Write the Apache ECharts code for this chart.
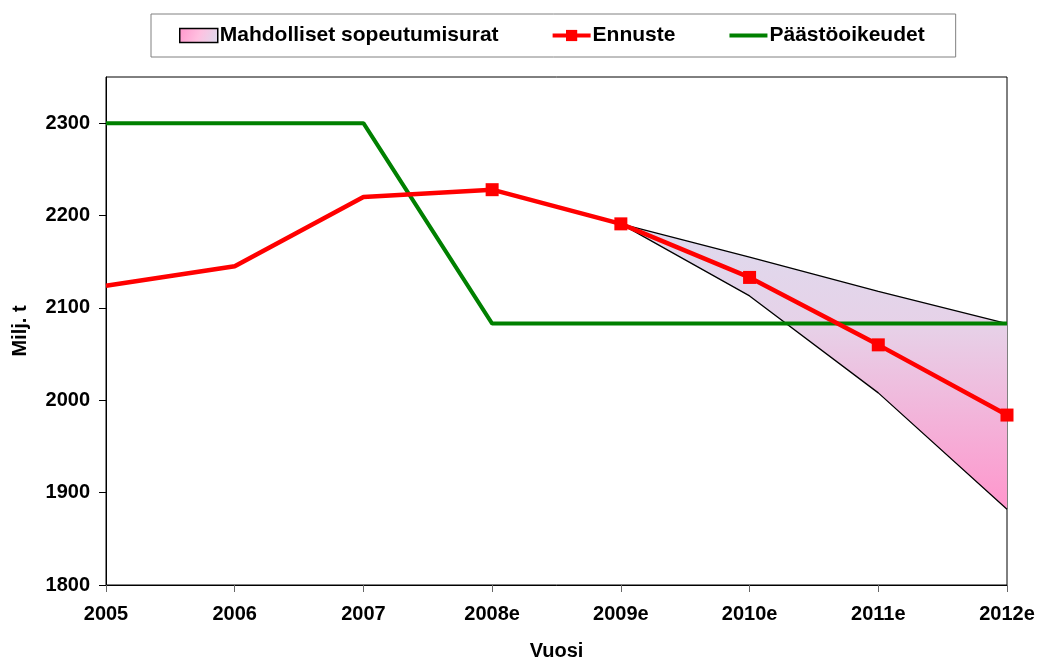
<!DOCTYPE html>
<html>
<head>
<meta charset="utf-8">
<script src="https://cdn.jsdelivr.net/npm/echarts@6/dist/echarts.min.js"></script>
<style>
	html, body { margin: 0; padding: 0; background: #fff; }
	#main { width: 1038px; height: 661px; }
</style>
</head>
<body>
<div id="main"></div>
<script>
const years = ['2005', '2006', '2007', '2008e', '2009e', '2010e', '2011e', '2012e'];
const ennuste = [2124, 2145, 2220, 2228, 2191, 2133, 2060, 1984];
const markerFrom = 3; // markers only from 2008e on
const paastooikeudet = [2300, 2300, 2300, 2083, 2083, 2083, 2083, 2083];
const bandUpper = [null, null, null, null, 2191, 2155, 2118, 2083];
const bandLower = [null, null, null, null, 2191, 2113, 2008, 1882];
const yTicks = [1800, 1900, 2000, 2100, 2200, 2300];

const font = {fontFamily: 'Liberation Sans, Arial, sans-serif', fontWeight: 'bold', fontSize: 20, color: '#000'};

const bandFill = new echarts.graphic.LinearGradient(0, 0, 0, 1, [
	{offset: 0, color: '#dedaee'},
	{offset: 0.35, color: '#e6d2e8'},
	{offset: 1, color: '#ff96cc'}
]);
const legendFill = new echarts.graphic.LinearGradient(0, 0, 1, 1, [
	{offset: 0, color: '#ff96cc'},
	{offset: 0.5, color: '#ffc0e0'},
	{offset: 1, color: '#dcdcee'}
]);

const bandDiff = bandUpper.map((v, i) => (v == null || bandLower[i] == null ? null : v - bandLower[i]));
const ennusteData = ennuste.map((v, i) => (i < markerFrom ? {value: v, symbol: 'none'} : v));

const chart = echarts.init(document.getElementById('main'), null, {renderer: 'canvas'});

chart.setOption({
	animation: false,
	backgroundColor: '#fff',
	textStyle: font,
	legend: {
		left: 151,
		top: 14,
		padding: [11, 31, 11, 28],
		itemGap: 52,
		itemWidth: 38,
		itemHeight: 14,
		borderColor: '#808080',
		borderWidth: 1,
		textStyle: Object.assign({}, font, {fontSize: 21, padding: [0, 0, 0, -3]}),
		data: [
			{name: 'Mahdolliset sopeutumisurat', icon: 'rect', itemStyle: {color: legendFill, borderColor: '#000', borderWidth: 1.5}},
			{name: 'Ennuste', lineStyle: {width: 4}},
			{name: 'Päästöoikeudet', lineStyle: {width: 4}, itemStyle: {opacity: 0}}
		]
	},
	grid: {
		left: 106,
		right: 31,
		top: 77,
		bottom: 76,
		outerBoundsMode: 'none',
		containLabel: false,
		show: true,
		borderColor: '#000',
		borderWidth: 1
	},
	xAxis: {
		type: 'category',
		data: years,
		boundaryGap: false,
		name: 'Vuosi',
		nameLocation: 'middle',
		nameGap: 56,
		nameMoveOverlap: false,
		nameTextStyle: font,
		axisLine: {lineStyle: {color: '#000', width: 1}},
		axisTick: {inside: false, length: 7, lineStyle: {color: '#666'}},
		axisLabel: Object.assign({}, font, {margin: 19})
	},
	yAxis: {
		type: 'value',
		min: 1800,
		max: 2350,
		interval: 100,
		name: 'Milj. t',
		nameLocation: 'middle',
		nameGap: 76,
		nameMoveOverlap: false,
		nameTextStyle: font,
		splitLine: {show: false},
		axisLine: {show: true, lineStyle: {color: '#000', width: 1}},
		axisTick: {show: true, length: 7, customValues: yTicks, lineStyle: {color: '#000'}},
		axisLabel: Object.assign({}, font, {margin: 16, customValues: yTicks, formatter: v => String(v)})
	},
	series: [
		{
			name: 'bandBase',
			type: 'line',
			stack: 'band',
			data: bandLower,
			symbol: 'none',
			lineStyle: {color: '#000', width: 1.3},
			silent: true,
			z: 2
		},
		{
			name: 'Mahdolliset sopeutumisurat',
			type: 'line',
			stack: 'band',
			data: bandDiff,
			symbol: 'none',
			color: '#ff96cc',
			lineStyle: {color: '#000', width: 1.3},
			areaStyle: {color: bandFill, opacity: 1},
			z: 1
		},
		{
			name: 'Päästöoikeudet',
			type: 'line',
			data: paastooikeudet,
			symbol: 'none',
			color: '#008000',
			lineStyle: {color: '#008000', width: 4},
			z: 3
		},
		{
			name: 'Ennuste',
			type: 'line',
			data: ennusteData,
			symbol: 'rect',
			symbolSize: 13,
			color: '#ff0000',
			itemStyle: {color: '#ff0000'},
			lineStyle: {color: '#ff0000', width: 4.5},
			z: 4
		}
	]
});
</script>
</body>
</html>
